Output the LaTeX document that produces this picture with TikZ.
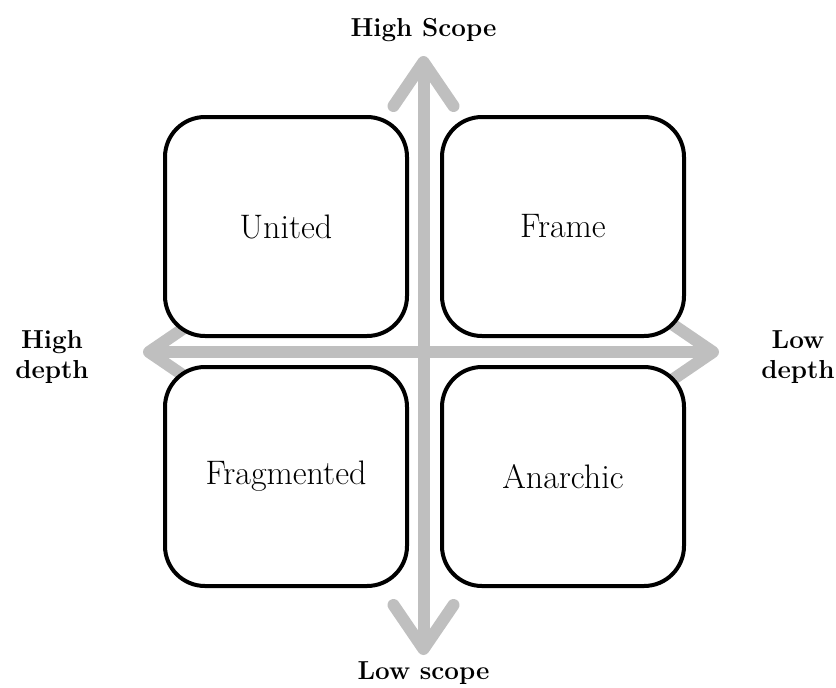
\documentclass[tikz,border=0pt]{standalone}
\usetikzlibrary{arrows.meta,positioning}

\tikzset{
  quad/.style={draw,line width=2pt,rounded corners=20pt,minimum width=121pt,minimum height=109.5pt,inner sep=0pt,fill=white,font=\fontsize{17}{20}\selectfont},
  axis/.style={line width=6pt,black!25,{Straight Barb[round,length=22pt,width=30pt]}-{Straight Barb[round,length=22pt,width=30pt]}},
  axislabel/.style={font=\fontsize{13}{15}\selectfont\bfseries,align=center}
}

\begin{document}
\begin{tikzpicture}[x=0.5pt,y=-0.5pt]
        \useasboundingbox (0,0) rectangle (836,687);
        % axes first, boxes on top
        \coordinate (top) at (423.5,56);
        \coordinate (bottom) at (423.5,655);
        \coordinate (left) at (143,352);
        \coordinate (right) at (719,352);
        \draw[axis] (bottom) -- (top);
        \draw[axis] (left) -- (right);
        \node[quad] (united) at (286,226.5) {United};
        \node[quad] (frame) at (563,226.5) {Frame};
        \node[quad] (fragmented) at (286,476.5) {Fragmented};
        \node[quad] (anarchic) at (563,476.5) {Anarchic};
        \node[axislabel] (hscope) at (423.5,30) {High Scope};
        \node[axislabel] (lscope) at (423.5,673) {Low scope};
        \node[axislabel] (hdepth) at (52,357) {High\\depth};
        \node[axislabel] (ldepth) at (798,357) {Low\\depth};
      \end{tikzpicture}
\end{document}
